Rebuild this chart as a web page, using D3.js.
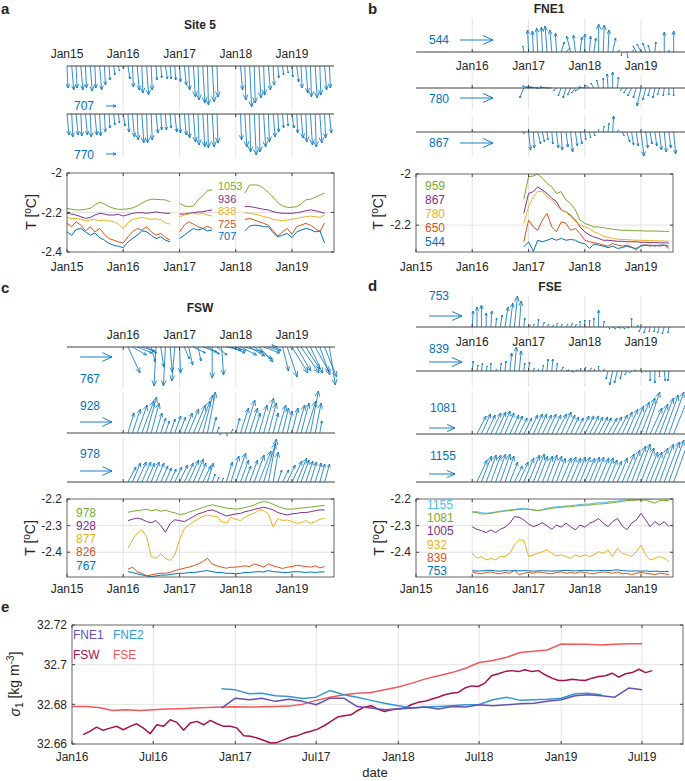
<!DOCTYPE html>
<html><head><meta charset="utf-8">
<script src="https://cdn.jsdelivr.net/npm/d3@7"></script>
<style>
body{margin:0;background:#fff;}
svg{display:block;font-family:"Liberation Sans",Arial,Helvetica,sans-serif;}
</style></head><body>
<svg id="chart" width="685" height="781"></svg>
<script>
// ======================= DATA =======================
// tick labels
const yearTicks = ["2015-01-01","2016-01-01","2017-01-01","2018-01-01","2019-01-01"];
const quiverTicks = ["2016-01-01","2017-01-01","2018-01-01","2019-01-01"];
const eTicks = ["2016-01-01","2016-07-01","2017-01-01","2017-07-01","2018-01-01","2018-07-01","2019-01-01","2019-07-01"];
const yTicksA = [-2,-2.2,-2.4], yTickLabA = ["-2","-2.2","-2.4"];
const yTicksB = [-2,-2.2], yTickLabB = ["-2","-2.2"];
const yTicksCD = [-2.2,-2.3,-2.4], yTickLabCD = ["-2.2","-2.3","-2.4"];
const yTicksE = [32.66,32.68,32.7,32.72], yTickLabE = ["32.66","32.68","32.7","32.72"];

// ---- Panel a: Site 5 currents (monthly from 2015-01, cm/s) ----
const s5_707_u = [0.1,0.2,0.1,0.2,0.1,0.2,0.1,0.2,0.1,0.1,0.1,0.1, 0.1,0.2,0.1,0.2,0.1,0.2,0.1,0.1,0.1,0.2,0.1,0.1, 0.1,0.2,0.1,0.2,0.1,0.2,0.1,0.2,0.1,null,null,null, null,0.2,0.1,0.2,0.1,0.2,0.1,0.2,0.1,0.1,0.1,0.1, 0.1,0.2,0.1,0.2,0.1,0.2,0.1,0.2,0.1];
const s5_707_v = [-2.2,-2.4,-2.2,-2.4,-2.2,-2.5,-2.2,-2.4,-1.9,-1.4,-0.9,-0.5, -0.2,-1.3,-2.1,-2.4,-2.7,-2.9,-2.4,-1.4,-1.2,-1.3,-1.3,-1.4, -1.6,-1.9,-2.4,-3.1,-3.4,-3.7,-3.9,-3.6,-3.1,null,null,null, null,-2.4,-3.4,-4.1,-3.7,-3.2,-2.9,-2.4,-1.9,-1.2,-0.9,-0.7, -1.1,-1.6,-2.2,-2.7,-3.1,-3.2,-2.9,-2.4,-2.2];
const s5_770_u = [0.2,0.1,0.2,0.1,0.2,0.1,0.2,0.1,0.1,0.1,0.1,0.1, 0.2,0.1,0.2,0.1,0.2,0.1,0.1,0.2,0.1,0.1,0.1,0.2, 0.1,0.2,0.1,0.2,0.1,0.2,0.1,0.2,0.1,null,null,null, null,0.1,0.2,0.1,0.2,0.1,0.2,0.1,0.2,0.1,0.1,0.1, 0.2,0.1,0.2,0.1,0.2,0.1,0.2,0.1,0.2];
const s5_770_v = [-2.1,-2.3,-2.1,-2.2,-2.1,-2.3,-2.1,-2.2,-1.8,-1.4,-1.1,-0.9, -1.2,-1.8,-2.3,-2.6,-2.9,-2.9,-2.6,-1.9,-1.6,-1.6,-1.4,-1.8, -1.9,-2.1,-2.4,-2.8,-3.1,-3.3,-3.4,-3.3,-2.9,null,null,null, null,-2.6,-3.3,-3.8,-4.1,-3.8,-3.3,-2.8,-2.3,-1.8,-1.4,-1.2, -1.4,-1.9,-2.4,-2.8,-3.1,-3.3,-2.9,-2.4,-1.9];
// ---- Panel a: Site 5 temperature (monthly from 2015-01, degC) ----
const s5_T1053 = [-2.179,-2.184,-2.187,-2.187,-2.184,-2.179,-2.162,-2.148,-2.157,-2.170,-2.179,-2.184, -2.184,-2.181,-2.177,-2.167,-2.153,-2.140,-2.133,-2.133,-2.135,-2.136,-2.146,null, -2.153,-2.167,-2.170,-2.167,-2.136,-2.116,-2.089,-2.085,null,null,null,null, null,null,-2.102,-2.061,-2.060,-2.063,-2.077,-2.099,-2.123,-2.150,-2.167,-2.174, -2.174,-2.170,-2.157,-2.136,-2.133,-2.123,-2.112,-2.102];
const s5_T936 = [-2.204,-2.208,-2.213,-2.221,-2.230,-2.225,-2.213,-2.204,-2.208,-2.213,-2.213,-2.209, -2.218,-2.211,-2.204,-2.201,-2.201,-2.204,-2.201,-2.197,-2.201,-2.204,-2.204,null, -2.208,-2.208,-2.204,-2.201,-2.197,-2.196,-2.191,-2.187,null,null,null,null, null,null,-2.170,-2.170,-2.174,-2.179,-2.184,-2.187,-2.196,-2.201,-2.204,-2.204, -2.204,-2.201,-2.197,-2.191,-2.187,-2.191,-2.197,-2.204];
const s5_T838 = [-2.225,-2.232,-2.230,-2.235,-2.242,-2.238,-2.235,-2.242,-2.238,-2.242,-2.247,-2.259, -2.281,-2.252,-2.235,-2.230,-2.225,-2.230,-2.235,-2.232,-2.238,-2.252,-2.259,null, -2.221,-2.213,-2.208,-2.204,-2.208,-2.204,-2.213,-2.218,null,null,null,null, null,null,-2.201,-2.204,-2.208,-2.213,-2.221,-2.225,-2.235,-2.238,-2.242,-2.238, -2.235,-2.230,-2.225,-2.221,-2.218,-2.221,-2.225,-2.213];
const s5_T725 = [-2.255,-2.272,-2.247,-2.264,-2.293,-2.272,-2.298,-2.281,-2.310,-2.332,-2.340,-2.349, -2.355,-2.323,-2.298,-2.281,-2.289,-2.272,-2.298,-2.315,-2.306,-2.327,-2.340,null, -2.298,-2.264,-2.247,-2.259,-2.272,-2.281,-2.270,-2.281,null,null,null,null, null,null,-2.235,-2.230,-2.238,-2.247,-2.255,-2.264,-2.293,-2.320,-2.298,-2.281, -2.310,-2.272,-2.264,-2.255,-2.264,-2.281,-2.298,-2.252];
const s5_T707 = [-2.298,-2.315,-2.286,-2.281,-2.298,-2.315,-2.303,-2.327,-2.340,-2.357,-2.366,-2.371, -2.378,-2.349,-2.332,-2.315,-2.293,-2.298,-2.315,-2.332,-2.323,-2.340,-2.349,null, -2.332,-2.315,-2.298,-2.281,-2.289,-2.281,-2.293,-2.289,null,null,null,null, null,null,-2.293,-2.269,-2.264,-2.266,-2.272,-2.272,-2.303,-2.323,-2.315,-2.306, -2.327,-2.298,-2.289,-2.281,-2.286,-2.298,-2.293,-2.354];

// ---- Panel b: FNE1 currents (monthly from 2016-12) ----
const fne1_544_u = [-0.1,-0.1,-0.1,-0.1,-0.1,-0.2,-0.2,-0.1,0.3,0.4,-0.4,-0.2,0.2,0.0,0.1,0.2,0.0,0.1,0.1,0.3,0.2,-0.1,0.1,0.2,-0.3,-0.4,-0.3,-0.2,0.1,0.0,0.0,0.0,0.0];
const fne1_544_v = [0.6,2.2,2.1,2.4,2.5,2.6,2.2,1.9,1.0,0.4,1.6,1.7,1.5,1.8,1.6,1.4,2.8,2.7,2.2,1.4,0.2,-0.4,-0.6,0.2,0.6,0.8,0.9,0.7,1.0,0.1,2.0,0.2,2.1];
const fne1_780_u = [-0.4,-0.6,-0.7,-0.8,-0.6,-0.7,-0.5,-0.3,-0.3,-0.3,-0.3,-0.4,-0.5,-0.6,-0.5,-0.3,-0.2,0.0,-0.1,0.0,0.1,-0.2,-0.3,-0.4,-0.3,-0.4,-0.3,-0.2,-0.2,-0.2,-0.1,0.0,0.0];
const fne1_780_v = [-1.0,0.2,0.1,0.1,0.0,0.1,0.0,-0.3,-0.8,-1.0,-0.7,-0.5,-0.3,0.1,0.3,0.5,0.8,1.0,1.4,1.6,1.1,-0.3,-0.5,-0.8,-1.0,-1.8,-1.2,-0.8,-1.0,-0.7,-0.8,-0.7,-0.8];
const fne1_867_u = [0.0,0.2,0.1,0.3,0.2,0.1,0.1,0.2,0.1,0.2,0.2,0.2,0.2,0.1,0.1,0.1,0.0,0.1,0.1,0.1,0.1,0.2,0.3,0.2,0.2,0.3,0.2,0.2,0.2,0.2,0.2,0.2,0.2];
const fne1_867_v = [-0.2,-1.8,-1.6,-1.2,-1.0,-0.8,-1.2,-1.6,-1.8,-1.5,-2.0,-1.4,-1.2,-0.8,-0.6,-0.4,0.3,0.6,0.9,1.6,0.2,-0.4,-1.0,-1.3,-1.4,-2.4,-1.6,-1.2,-1.4,-1.8,-2.0,-1.6,-2.2];
// ---- Panel b: FNE1 temperature (monthly from 2016-12) ----
const fne1_T959 = [-2.099,-2.010,-2.008,-2.000,-2.017,-2.037,-2.050,-2.076,-2.069,-2.102,-2.115,-2.141,-2.180,-2.193,-2.200,-2.207,-2.207,-2.210,-2.213,-2.216,-2.218,-2.220,-2.220,-2.221,-2.222,-2.222,-2.223,-2.223,-2.223,-2.224,-2.224,-2.225];
const fne1_T867 = [-2.154,-2.076,-2.069,-2.050,-2.063,-2.076,-2.095,-2.108,-2.141,-2.148,-2.161,-2.180,-2.207,-2.226,-2.239,-2.246,-2.252,-2.259,-2.259,-2.261,-2.263,-2.263,-2.265,-2.265,-2.265,-2.267,-2.267,-2.268,-2.268,-2.269,-2.269,-2.270];
const fne1_T780 = [-2.193,-2.128,-2.089,-2.069,-2.069,-2.089,-2.102,-2.122,-2.141,-2.148,-2.167,-2.187,-2.200,-2.207,-2.213,-2.226,-2.233,-2.243,-2.248,-2.252,-2.255,-2.256,-2.257,-2.258,-2.259,-2.259,-2.260,-2.260,-2.261,-2.261,-2.262,-2.263];
const fne1_T650 = [-2.265,-2.180,-2.207,-2.220,-2.180,-2.154,-2.207,-2.226,-2.187,-2.193,-2.220,-2.213,-2.233,-2.259,-2.265,-2.269,-2.272,-2.278,-2.282,-2.272,-2.278,-2.282,-2.278,-2.285,-2.298,-2.278,-2.278,-2.282,-2.278,-2.282,-2.278,-2.291];
const fne1_T544 = [-2.285,-2.265,-2.303,-2.259,-2.265,-2.259,-2.252,-2.259,-2.252,-2.259,-2.256,-2.259,-2.269,-2.272,-2.291,-2.274,-2.278,-2.282,-2.288,-2.282,-2.291,-2.288,-2.282,-2.288,-2.291,-2.282,-2.278,-2.278,-2.282,-2.278,-2.278,-2.282];

// ---- Panel c: FSW currents (monthly from 2016-02) ----
const fsw_767_u = [1.2,1.4,1.5,1.3,1.0,0.4,-0.2,0.3,-0.2,0.2,-0.3, 0.1,0.5,0.4,1.2,0.3,1.4,1.2,0.0,1.0,0.2,1.5,1.4, 1.0,1.6,1.8,1.5,1.8,1.4,1.6,1.2,0.8,-0.6,0.6,1.0, 1.6,1.4,1.8,1.4,1.2,1.4,1.0,1.2,0.6];
const fsw_767_v = [-2.6,-0.8,-0.6,-0.4,-0.6,-1.5,-3.9,-2.0,-3.9,-2.5,-3.4, -2.6,-1.2,-1.8,-0.6,-1.4,-0.5,-0.7,-3.1,-0.8,-2.8,-0.3,-0.6, -0.4,-0.8,-0.5,-0.9,-1.2,-1.5,-0.6,-0.4,-0.3,0.2,-2.4,-3.0, -2.6,-2.4,-2.6,-2.2,-2.6,-2.5,-2.8,-3.0,-3.8];
const fsw_928_u = [0.6,0.8,1.0,1.2,1.0,0.8,0.6,0.5,0.4,0.5,0.6, 0.6,0.8,1.0,1.2,1.2,1.0,0.8,0.4,0.2,-0.2,0.1,0.2, 0.4,0.8,1.0,0.8,0.6,0.8,1.0,0.8,0.5,0.8,0.6,0.5, 0.6,0.8,0.8,1.0,0.8,0.6,0.2];
const fsw_928_v = [2.0,2.4,2.8,3.2,3.6,3.0,2.0,1.5,1.2,1.4,1.7, 1.6,2.0,2.4,2.8,3.2,3.8,4.1,1.6,0.6,-0.2,-0.3,0.4, 1.5,2.5,3.3,2.5,2.0,2.8,3.5,3.0,2.0,2.8,2.5,2.2, 2.5,2.8,3.0,3.2,4.2,3.0,1.2];
const fsw_978_u = [0.8,0.8,0.9,0.9,0.8,0.8,0.8,0.7,0.6,0.6,0.7, 0.8,0.9,1.0,1.0,0.8,0.8,0.6,0.3,0.2,0.2,0.6,0.8, 1.0,0.8,0.6,0.8,1.0,1.2,1.2,0.8,0.5,0.4,0.6,0.8, 1.0,1.0,0.8,0.7,0.6,0.6,0.5,0.5];
const fsw_978_v = [1.5,1.9,2.0,2.0,1.9,2.0,1.9,1.6,1.4,1.3,1.5, 1.7,1.9,2.2,2.3,1.9,1.6,1.9,0.8,0.5,0.4,2.0,2.6, 2.9,2.2,1.6,2.2,2.7,3.1,3.9,4.3,3.0,1.2,1.2,1.7, 2.1,2.4,2.2,2.1,2.0,1.9,1.8,1.8];
// ---- Panel c: FSW temperature (monthly from 2016-02) ----
const fsw_T978 = [-2.250,-2.246,-2.244,-2.241,-2.238,-2.244,-2.240,-2.246,-2.242,-2.248,-2.252, -2.258,-2.256,-2.250,-2.244,-2.238,-2.232,-2.226,-2.222,-2.226,-2.230,-2.234,-2.236, -2.238,-2.236,-2.232,-2.228,-2.222,-2.214,-2.210,-2.212,-2.220,-2.228,-2.234,-2.238, -2.238,-2.236,-2.234,-2.232,-2.230,-2.228,-2.226,-2.224];
const fsw_T928 = [-2.281,-2.276,-2.272,-2.276,-2.285,-2.289,-2.281,-2.300,-2.325,-2.292,-2.278, -2.281,-2.285,-2.276,-2.266,-2.256,-2.251,-2.244,-2.241,-2.248,-2.256,-2.264,-2.260, -2.256,-2.254,-2.248,-2.244,-2.239,-2.235,-2.231,-2.235,-2.241,-2.251,-2.256,-2.260, -2.256,-2.254,-2.251,-2.251,-2.248,-2.244,-2.241,-2.241];
const fsw_T877 = [-2.385,-2.354,-2.329,-2.316,-2.341,-2.416,-2.423,-2.406,-2.423,-2.431,-2.410, -2.354,-2.310,-2.298,-2.285,-2.276,-2.266,-2.260,-2.264,-2.266,-2.285,-2.291,-2.269, -2.276,-2.281,-2.269,-2.260,-2.254,-2.241,-2.244,-2.256,-2.306,-2.273,-2.281,-2.279, -2.285,-2.291,-2.289,-2.281,-2.291,-2.285,-2.276,-2.273];
const fsw_T826 = [-2.464,-2.456,-2.473,-2.479,-2.489,-2.485,-2.481,-2.479,-2.479,-2.476,-2.469, -2.464,-2.460,-2.456,-2.451,-2.444,-2.435,-2.423,-2.444,-2.451,-2.456,-2.460,-2.456, -2.456,-2.454,-2.451,-2.454,-2.444,-2.449,-2.456,-2.444,-2.451,-2.456,-2.461,-2.456, -2.454,-2.449,-2.451,-2.454,-2.456,-2.451,-2.459,-2.454];
const fsw_T767 = [-2.473,-2.476,-2.481,-2.485,-2.489,-2.491,-2.489,-2.486,-2.486,-2.484,-2.481, -2.479,-2.479,-2.476,-2.476,-2.474,-2.471,-2.469,-2.473,-2.476,-2.476,-2.479,-2.479, -2.481,-2.479,-2.476,-2.476,-2.474,-2.473,-2.474,-2.469,-2.473,-2.474,-2.476,-2.476, -2.474,-2.473,-2.474,-2.476,-2.474,-2.476,-2.474,-2.474];

// ---- Panel d: FSE currents ----
const fse_753_u = [0.1,0.0,0.0,0.0,0.1,0.1,0.2,0.3,0.3,0.3,0.2,0.1, 0.2,0.1,0.1,0.2,0.2,0.2,0.1,0.1,0.2,0.2,0.1,0.0, 0.0,0.0,0.0,0.0,0.1,0.2,0.3,0.3,0.3,0.2,0.0,0.2, -0.2,-0.2,-0.1,-0.1,-0.2,-0.2,-0.1];
const fse_753_v = [1.6,2.0,2.2,1.4,1.6,0.9,1.2,2.0,2.4,3.1,2.6,0.9, 0.2,0.3,0.8,0.5,0.3,0.2,0.4,0.3,0.3,0.4,0.3,0.6, 0.7,0.7,0.9,1.7,0.6,-0.2,-0.2,-0.1,-0.2,-0.1,0.9,0.2, -0.5,-0.6,-0.5,-0.5,-0.6,-0.7,-0.6];
const fse_839_u = [0.1,0.1,0.1,0.1,0.0,0.1,0.1,0.1,0.2,0.2,0.2,0.1, 0.1,0.1,0.1,0.1,0.1,0.1,0.1,0.2,0.3,0.3,0.2,0.1, 0.1,0.2,0.1,0.0,0.1,-0.2,-0.3,-0.3,-0.2,-0.2,-0.2,-0.2, 0.1,0.0,0.0,0.0,0.0,0.1,-0.1];
const fse_839_v = [1.0,0.6,0.8,0.5,0.8,0.2,0.8,1.0,1.8,2.4,2.0,0.8, 0.9,0.3,0.2,0.6,1.2,1.2,0.8,0.4,0.1,-0.1,0.1,0.3, 0.4,0.3,0.2,0.5,0.2,-0.8,-1.4,-1.2,-0.8,-0.4,-0.2,0.1, -0.2,-0.1,-1.0,-1.2,-0.6,-1.0,-1.0];
const fse_1081_u = [0.9,0.9,0.9,1.0,1.0,1.0,0.9,0.9,0.8,0.8,0.8, 0.9,0.9,0.9,0.9,0.9,0.9,1.0,1.0,0.9,0.8,0.8,0.9, 0.9,0.9,0.9,0.9,0.8,0.9,0.9,1.0,1.0,1.1,1.2,1.3, 1.4,1.4,1.2,1.3,1.4,1.4,1.5,1.6];
const fse_1081_v = [1.8,2.0,1.9,2.1,2.2,2.3,2.1,1.9,1.8,1.6,1.6, 1.9,2.0,2.0,1.9,2.0,1.9,2.0,2.2,1.9,1.7,1.6,1.8, 1.8,1.8,1.7,1.7,1.6,1.6,1.7,1.9,2.2,2.5,2.8,3.2, 3.6,4.2,2.6,3.0,3.6,3.9,4.2,4.0];
const fse_1155_u = [1.0,1.0,1.0,1.0,1.0,1.0,0.9,0.8,0.8,0.9,1.0, 1.1,1.1,1.0,1.0,1.0,1.0,0.9,1.0,1.0,1.0,1.0,1.0, 1.0,1.0,1.0,1.0,1.0,0.9,0.9,1.0,1.2,1.3,1.4,1.4, 1.3,1.2,1.2,1.3,1.4,1.5,1.5,1.6];
const fse_1155_v = [2.2,2.6,2.7,2.7,2.8,2.8,2.6,2.0,1.6,2.0,2.4, 2.7,2.8,2.6,2.6,2.7,2.6,2.4,2.4,2.5,2.4,2.5,2.5, 2.4,2.5,2.5,2.4,2.4,2.2,2.1,2.4,2.8,3.2,3.6,3.8, 3.4,3.0,3.0,3.4,3.8,4.0,4.2,4.4];
// ---- Panel d: FSE temperature (monthly from 2016-01) ----
const fse_T1155 = [-2.248,-2.248,-2.251,-2.254,-2.251,-2.249,-2.246,-2.244,-2.241,-2.239,-2.236,-2.235, -2.238,-2.241,-2.244,-2.239,-2.235,-2.231,-2.229,-2.229,-2.226,-2.226,-2.223,-2.221, -2.219,-2.219,-2.216,-2.214,-2.214,-2.211,-2.209,-2.208,-2.204,-2.204,-2.201,-2.201, -2.200,-2.200,-2.200,-2.199,-2.199,-2.199,-2.200];
const fse_T1081 = [-2.249,-2.251,-2.256,-2.256,-2.254,-2.250,-2.248,-2.245,-2.244,-2.241,-2.239,-2.238, -2.239,-2.241,-2.244,-2.241,-2.238,-2.235,-2.233,-2.231,-2.229,-2.229,-2.226,-2.225, -2.223,-2.223,-2.220,-2.219,-2.218,-2.216,-2.214,-2.211,-2.210,-2.206,-2.206,-2.204, -2.204,-2.204,-2.210,-2.216,-2.206,-2.206,-2.205];
const fse_T1005 = [-2.304,-2.314,-2.319,-2.326,-2.316,-2.326,-2.314,-2.306,-2.291,-2.266,-2.269,-2.279, -2.294,-2.304,-2.298,-2.289,-2.301,-2.314,-2.298,-2.306,-2.291,-2.304,-2.316,-2.298, -2.306,-2.291,-2.285,-2.273,-2.291,-2.304,-2.285,-2.273,-2.301,-2.316,-2.291,-2.279, -2.254,-2.279,-2.304,-2.285,-2.298,-2.285,-2.304];
const fse_T932 = [-2.404,-2.423,-2.416,-2.429,-2.423,-2.429,-2.416,-2.416,-2.404,-2.373,-2.354,-2.355, -2.416,-2.410,-2.404,-2.398,-2.391,-2.404,-2.414,-2.410,-2.416,-2.423,-2.410,-2.416, -2.410,-2.416,-2.410,-2.398,-2.404,-2.391,-2.416,-2.385,-2.404,-2.410,-2.416,-2.398, -2.373,-2.410,-2.429,-2.423,-2.416,-2.423,-2.435];
const fse_T839 = [-2.474,-2.479,-2.481,-2.476,-2.474,-2.479,-2.481,-2.476,-2.479,-2.468,-2.484,-2.479, -2.476,-2.479,-2.474,-2.476,-2.479,-2.481,-2.476,-2.474,-2.479,-2.476,-2.479,-2.474, -2.476,-2.479,-2.481,-2.476,-2.474,-2.476,-2.479,-2.474,-2.481,-2.479,-2.484,-2.479, -2.476,-2.479,-2.481,-2.484,-2.479,-2.481,-2.484];
const fse_T753 = [-2.469,-2.471,-2.470,-2.469,-2.468,-2.470,-2.471,-2.469,-2.470,-2.469,-2.470,-2.469, -2.470,-2.471,-2.470,-2.469,-2.470,-2.471,-2.470,-2.469,-2.468,-2.469,-2.470,-2.469, -2.468,-2.469,-2.470,-2.469,-2.468,-2.469,-2.468,-2.466,-2.469,-2.470,-2.471,-2.470, -2.471,-2.470,-2.472,-2.471,-2.472,-2.473,-2.472];

// ---- Panel e: sigma_1 (kg m-3) ----
const sigFNE1 = [32.6781,32.6831,32.6823,32.6831,32.6815,32.6826,32.6815,32.6798,32.6831,32.6831,32.6789,32.6781,32.6773,32.6776,32.6781,32.6786,32.6776,32.6789,32.6786,32.6798,32.6793,32.6798,32.6803,32.6806,32.6815,32.6823,32.6843,32.6848,32.6843,32.6836,32.6882,32.6873]; // monthly from 2016-12
const sigFNE2 = [32.6878,32.6873,32.6853,32.6856,32.6843,32.6840,32.6830,32.6836,32.6870,32.6848,32.6836,32.6820,32.6806,32.6793,32.6781,32.6786,32.6789,32.6793,32.6798,32.6799,32.6823,32.6836,32.6820,32.6823,32.6826,32.6831,32.6853,32.6856,32.6848]; // monthly from 2016-12
const sigFSE = [32.6789,32.6789,32.6784,32.6769,32.6773,32.6769,32.6773,32.6776,32.6778,32.6781,32.6784,32.6786,32.6788,32.6786,32.6788,32.6789,32.6791,32.6801,32.6820,32.6836,32.6848,32.6856,32.6860,32.6873,32.6887,32.6907,32.6927,32.6944,32.6960,32.6982,32.7011,32.7021,32.7037,32.7061,32.7068,32.7074,32.7104,32.7103,32.7103,32.7099,32.7103,32.7106,32.7106]; // monthly from 2016-01
const sigFSW = [32.6647,32.6664,32.6685,32.6669,32.6680,32.6689,32.6672,32.6689,32.6702,32.6680,32.6652,32.6697,32.6689,32.6722,32.6709,32.6669,32.6706,32.6714,32.6697,32.6719,32.6702,32.6689,32.6689,32.6680,32.6642,32.6639,32.6630,32.6618,32.6605,32.6608,32.6622,32.6635,32.6642,32.6655,32.6664,32.6675,32.6692,32.6714,32.6736, 32.6742,32.6747,32.6769,32.6786,32.6793,32.6776,32.6764,32.6773,32.6776,32.6781,32.6798,32.6810,32.6815,32.6826,32.6836,32.6848,32.6856,32.6860,32.6882,32.6893,32.6890,32.6907,32.6944,32.6954,32.6965,32.6970,32.6965,32.6974,32.6965,32.6970,32.6949,32.6932,32.6920,32.6920,32.6927,32.6923,32.6920,32.6932,32.6940,32.6944,32.6957,32.6937,32.6954,32.6960,32.6977,32.6960,32.6970]; // every 15 days from 2016-01-26

// ======================= DRAWING =======================
const svg = d3.select("#chart");
const C = {blue:"#0072BD", orange:"#D95319", yellow:"#EDB120", purple:"#7E2F8E", green:"#77AC30", cyan:"#4DBEEE"};
const EC = {fne1:"#6650B4", fne2:"#3399D6", fsw:"#A5124C", fse:"#F2575C"};
const D = s => new Date(s.length === 7 ? s + "-01T00:00:00Z" : s + "T00:00:00Z");
const months = (start, n) => d3.range(n).map(i => d3.utcMonth.offset(D(start), i));
const fmtMon = d3.utcFormat("%b%y");
const AX = "#404040", TXT = "#262626", GRID = "#e3e3e3";
const K = 10; // px per cm/s

const xLeft = d3.scaleUtc().domain([D("2015-01-01"), D("2019-10-01")]).range([67, 334]);
const xRight = d3.scaleUtc().domain([D("2015-01-01"), D("2019-01-01")]).range([416, 641]);
const xE = d3.scaleUtc().domain([D("2016-01-01"), D("2019-07-01")]).range([72, 642]);

let clipId = 0;
function text(x, y, s, opt = {}) {
  return svg.append("text").attr("x", x).attr("y", y).attr("dy", "0.35em")
    .attr("font-size", opt.size || 12).attr("fill", opt.color || TXT)
    .attr("font-weight", opt.bold ? "bold" : null)
    .attr("text-anchor", opt.anchor || "start").text(s);
}
function arrow(g, x0, y0, x1, y1, frac, maxH, ang) {
  const dx = x1 - x0, dy = y1 - y0, L = Math.hypot(dx, dy);
  if (L < 0.3) return;
  const h = Math.min(L * frac, maxH), a = Math.atan2(dy, dx);
  const p = d3.path();
  p.moveTo(x0, y0); p.lineTo(x1, y1);
  p.moveTo(x1 - h * Math.cos(a - ang), y1 - h * Math.sin(a - ang));
  p.lineTo(x1, y1);
  p.lineTo(x1 - h * Math.cos(a + ang), y1 - h * Math.sin(a + ang));
  g.append("path").attr("d", p.toString());
}
function quiverAxis(cfg) {
  const {xs, x0, x1, base, gTop, gBot, start, U, V} = cfg;
  const g = svg.append("g");
  quiverTicks.forEach(t => {
    g.append("line").attr("x1", xs(D(t))).attr("x2", xs(D(t))).attr("y1", gTop).attr("y2", gBot)
      .attr("stroke", GRID).attr("stroke-width", 1);
  });
  const ag = g.append("g").attr("stroke", C.blue).attr("stroke-width", 0.8).attr("fill", "none");
  months(start, V.length).forEach((d, i) => {
    if (V[i] == null) return;
    const tx = xs(d);
    arrow(ag, tx, base, tx + U[i] * K, base - V[i] * K, 0.2, 6, 0.4);
  });
  g.append("line").attr("x1", x0).attr("x2", x1).attr("y1", base).attr("y2", base)
    .attr("stroke", AX).attr("stroke-width", 1);
  quiverTicks.forEach(t => {
    const dir = base === gTop ? 1 : -1;
    g.append("line").attr("x1", xs(D(t))).attr("x2", xs(D(t))).attr("y1", base).attr("y2", base + dir * 3)
      .attr("stroke", AX).attr("stroke-width", 1);
  });
  // label & reference arrow
  text(cfg.labX, cfg.labY, cfg.label, {color: C.blue});
  const rg = svg.append("g").attr("stroke", C.blue).attr("stroke-width", 0.9).attr("fill", "none");
  arrow(rg, cfg.refX, cfg.refY, cfg.refX + cfg.refSpeed * K, cfg.refY, 0.33, 11, 0.42);
}
function tempAxis(cfg) {
  const {xs, left, right, top, bottom, yDom, yT, yL, xT, xLabY, series, labels} = cfg;
  const y = d3.scaleLinear().domain(yDom).range([bottom, top]);
  const g = svg.append("g");
  const id = "clip" + (clipId++);
  svg.append("clipPath").attr("id", id).append("rect")
    .attr("x", left).attr("y", top).attr("width", right - left).attr("height", bottom - top);
  // grid
  xT.forEach(t => { const xx = xs(D(t)); if (xx > left + 0.5 && xx < right - 0.5)
    g.append("line").attr("x1", xx).attr("x2", xx).attr("y1", top).attr("y2", bottom).attr("stroke", GRID); });
  yT.forEach(v => { const yy = y(v); if (yy > top + 0.5 && yy < bottom - 0.5)
    g.append("line").attr("x1", left).attr("x2", right).attr("y1", yy).attr("y2", yy).attr("stroke", GRID); });
  // lines
  const lg = g.append("g").attr("clip-path", `url(#${id})`);
  series.forEach(s => {
    const dates = s.dates || months(s.start, s.values.length);
    const line = d3.line().defined(v => v != null).x((v, i) => xs(dates[i])).y(v => y(v));
    lg.append("path").attr("d", line(s.values)).attr("fill", "none").attr("stroke", s.color)
      .attr("stroke-width", s.width || 1).attr("stroke-linejoin", "round");
  });
  // box & ticks
  g.append("rect").attr("x", left).attr("y", top).attr("width", right - left).attr("height", bottom - top)
    .attr("fill", "none").attr("stroke", AX).attr("stroke-width", 0.8);
  xT.forEach(t => { const xx = xs(D(t));
    if (xx >= left - 0.5 && xx <= right + 0.5) {
      g.append("line").attr("x1", xx).attr("x2", xx).attr("y1", bottom).attr("y2", bottom - 3).attr("stroke", AX);
      g.append("line").attr("x1", xx).attr("x2", xx).attr("y1", top).attr("y2", top + 3).attr("stroke", AX);
    }
    text(xx, xLabY, cfg.xFmt(D(t)), {anchor: "middle"});
  });
  yT.forEach((v, i) => { const yy = y(v);
    g.append("line").attr("x1", left).attr("x2", left + 3).attr("y1", yy).attr("y2", yy).attr("stroke", AX);
    g.append("line").attr("x1", right).attr("x2", right - 3).attr("y1", yy).attr("y2", yy).attr("stroke", AX);
    text(left - 5, yy, yL[i], {anchor: "end"});
  });
  (labels || []).forEach(l => text(l.x, l.y, l.t, {color: l.c, size: cfg.labSize || 12}));
}
function tLabel(x, y) {
  const t = svg.append("text").attr("transform", `translate(${x},${y}) rotate(-90)`)
    .attr("text-anchor", "middle").attr("dy", "0.35em").attr("font-size", 14).attr("fill", TXT);
  t.append("tspan").text("T [");
  t.append("tspan").attr("font-size", 10).attr("dy", "-0.45em").text("o");
  t.append("tspan").attr("dy", "0.3em").text("C]");
}

// ---------- panel letters & titles ----------
text(1, 9, "a", {size: 15, bold: true});
text(368, 9, "b", {size: 15, bold: true});
text(1, 288, "c", {size: 15, bold: true});
text(368, 286, "d", {size: 15, bold: true});
text(1, 607, "e", {size: 15, bold: true});
text(200, 25, "Site 5", {bold: true, anchor: "middle"});
text(549, 9, "FNE1", {bold: true, anchor: "middle"});
text(200, 308, "FSW", {bold: true, anchor: "middle"});
text(550, 287, "FSE", {bold: true, anchor: "middle"});

// ---------- panel a ----------
yearTicks.forEach(t => text(xLeft(D(t)), 54, fmtMon(D(t)), {anchor: "middle"}));
quiverAxis({xs: xLeft, x0: 67, x1: 334, base: 66, gTop: 66, gBot: 110, start: "2015-01", U: s5_707_u, V: s5_707_v,
  label: "707", labX: 74, labY: 106, refX: 106, refY: 106, refSpeed: 1.0});
quiverAxis({xs: xLeft, x0: 67, x1: 334, base: 114, gTop: 114, gBot: 157, start: "2015-01", U: s5_770_u, V: s5_770_v,
  label: "770", labX: 74, labY: 155, refX: 106, refY: 154, refSpeed: 1.0});
tempAxis({xs: xLeft, left: 67, right: 334, top: 173, bottom: 252, yDom: [-2.4, -2], yT: yTicksA, yL: yTickLabA,
  xT: yearTicks, xLabY: 267, xFmt: fmtMon, labSize: 11,
  series: [
    {start: "2015-01", values: s5_T1053, color: C.green},
    {start: "2015-01", values: s5_T936, color: C.purple},
    {start: "2015-01", values: s5_T838, color: C.yellow},
    {start: "2015-01", values: s5_T725, color: C.orange},
    {start: "2015-01", values: s5_T707, color: C.blue}],
  labels: [{t: "1053", c: C.green, x: 218, y: 186.5}, {t: "936", c: C.purple, x: 218, y: 199},
    {t: "838", c: C.yellow, x: 218, y: 211.5}, {t: "725", c: C.orange, x: 218, y: 224}, {t: "707", c: C.blue, x: 218, y: 236.5}]});
tLabel(31, 212);

// ---------- panel b ----------
quiverTicks.forEach(t => text(xRight(D(t)), 66, fmtMon(D(t)), {anchor: "middle"}));
quiverAxis({xs: xRight, x0: 416, x1: 685, base: 52, gTop: 18, gBot: 52, start: "2016-12", U: fne1_544_u, V: fne1_544_v,
  label: "544", labX: 429, labY: 40, refX: 460, refY: 40, refSpeed: 3.3});
quiverAxis({xs: xRight, x0: 416, x1: 685, base: 88, gTop: 74, gBot: 110, start: "2016-12", U: fne1_780_u, V: fne1_780_v,
  label: "780", labX: 429, labY: 99, refX: 460, refY: 98, refSpeed: 3.3});
quiverAxis({xs: xRight, x0: 416, x1: 685, base: 132, gTop: 115, gBot: 157, start: "2016-12", U: fne1_867_u, V: fne1_867_v,
  label: "867", labX: 429, labY: 143, refX: 460, refY: 143, refSpeed: 3.3});
tempAxis({xs: xRight, left: 416, right: 673, top: 174, bottom: 252, yDom: [-2.305, -2], yT: yTicksB, yL: yTickLabB,
  xT: yearTicks, xLabY: 267, xFmt: fmtMon,
  series: [
    {start: "2016-12", values: fne1_T959, color: C.green},
    {start: "2016-12", values: fne1_T867, color: C.purple},
    {start: "2016-12", values: fne1_T780, color: C.yellow},
    {start: "2016-12", values: fne1_T650, color: C.orange},
    {start: "2016-12", values: fne1_T544, color: C.blue}],
  labels: [{t: "959", c: C.green, x: 425, y: 186}, {t: "867", c: C.purple, x: 425, y: 200},
    {t: "780", c: C.yellow, x: 425, y: 214}, {t: "650", c: C.orange, x: 425, y: 228}, {t: "544", c: C.blue, x: 425, y: 242}]});
tLabel(378, 212);

// ---------- panel c ----------
quiverTicks.forEach(t => text(xLeft(D(t)), 335, fmtMon(D(t)), {anchor: "middle"}));
quiverAxis({xs: xLeft, x0: 67, x1: 335, base: 347, gTop: 347, gBot: 388, start: "2016-02", U: fsw_767_u, V: fsw_767_v,
  label: "767", labX: 80, labY: 379, refX: 80, refY: 357, refSpeed: 3.2});
quiverAxis({xs: xLeft, x0: 67, x1: 335, base: 433, gTop: 392, gBot: 433, start: "2016-02", U: fsw_928_u, V: fsw_928_v,
  label: "928", labX: 80, labY: 406, refX: 80, refY: 422, refSpeed: 3.2});
quiverAxis({xs: xLeft, x0: 67, x1: 335, base: 482, gTop: 438, gBot: 482, start: "2016-02", U: fsw_978_u, V: fsw_978_v,
  label: "978", labX: 80, labY: 454, refX: 80, refY: 471, refSpeed: 3.2});
tempAxis({xs: xLeft, left: 67, right: 334, top: 499, bottom: 577, yDom: [-2.493, -2.2], yT: yTicksCD, yL: yTickLabCD,
  xT: yearTicks, xLabY: 589, xFmt: fmtMon,
  series: [
    {start: "2016-02", values: fsw_T978, color: C.green},
    {start: "2016-02", values: fsw_T928, color: C.purple},
    {start: "2016-02", values: fsw_T877, color: C.yellow},
    {start: "2016-02", values: fsw_T826, color: C.orange},
    {start: "2016-02", values: fsw_T767, color: C.blue}],
  labels: [{t: "978", c: C.green, x: 76, y: 513}, {t: "928", c: C.purple, x: 76, y: 526},
    {t: "877", c: C.yellow, x: 76, y: 539}, {t: "826", c: C.orange, x: 76, y: 552}, {t: "767", c: C.blue, x: 76, y: 566}]});
tLabel(30, 538);

// ---------- panel d ----------
quiverTicks.forEach(t => text(xRight(D(t)), 342, fmtMon(D(t)), {anchor: "middle"}));
quiverAxis({xs: xRight, x0: 416, x1: 685, base: 327, gTop: 296, gBot: 336, start: "2016-01", U: fse_753_u, V: fse_753_v,
  label: "753", labX: 429, labY: 296, refX: 429, refY: 316, refSpeed: 3.3});
quiverAxis({xs: xRight, x0: 416, x1: 685, base: 371, gTop: 352, gBot: 387, start: "2016-01", U: fse_839_u, V: fse_839_v,
  label: "839", labX: 429, labY: 349, refX: 429, refY: 362, refSpeed: 3.3});
quiverAxis({xs: xRight, x0: 416, x1: 685, base: 434, gTop: 391, gBot: 434, start: "2016-02", U: fse_1081_u, V: fse_1081_v,
  label: "1081", labX: 430, labY: 408, refX: 429, refY: 428, refSpeed: 2.6});
quiverAxis({xs: xRight, x0: 416, x1: 685, base: 482, gTop: 438, gBot: 482, start: "2016-02", U: fse_1155_u, V: fse_1155_v,
  label: "1155", labX: 430, labY: 456, refX: 429, refY: 474, refSpeed: 2.6});
tempAxis({xs: xRight, left: 416, right: 673, top: 499, bottom: 577, yDom: [-2.493, -2.2], yT: yTicksCD, yL: yTickLabCD,
  xT: yearTicks, xLabY: 589, xFmt: fmtMon,
  series: [
    {start: "2016-01", values: fse_T1155, color: C.cyan},
    {start: "2016-01", values: fse_T1081, color: C.green},
    {start: "2016-01", values: fse_T1005, color: C.purple},
    {start: "2016-01", values: fse_T932, color: C.yellow},
    {start: "2016-01", values: fse_T839, color: C.orange},
    {start: "2016-01", values: fse_T753, color: C.blue}],
  labels: [{t: "1155", c: C.cyan, x: 427, y: 505}, {t: "1081", c: C.green, x: 427, y: 518},
    {t: "1005", c: C.purple, x: 427, y: 531}, {t: "932", c: C.yellow, x: 427, y: 545},
    {t: "839", c: C.orange, x: 427, y: 558}, {t: "753", c: C.blue, x: 427, y: 571}]});
tLabel(379, 538);

// ---------- panel e ----------
const fswDates = sigFSW.map((v, i) => d3.utcDay.offset(D("2016-01-26"), 15 * i));
tempAxis({xs: xE, left: 72, right: 683, top: 625, bottom: 744, yDom: [32.66, 32.72], yT: yTicksE, yL: yTickLabE,
  xT: eTicks, xLabY: 757, xFmt: fmtMon,
  series: [
    {start: "2016-01", values: sigFSE, color: EC.fse, width: 1.5},
    {dates: fswDates, values: sigFSW, color: EC.fsw, width: 1.5},
    {start: "2016-12", values: sigFNE2, color: EC.fne2, width: 1.5},
    {start: "2016-12", values: sigFNE1, color: EC.fne1, width: 1.5}],
  labels: [{t: "FNE1", c: EC.fne1, x: 73, y: 635}, {t: "FNE2", c: EC.fne2, x: 113, y: 635},
    {t: "FSW", c: EC.fsw, x: 73, y: 655}, {t: "FSE", c: EC.fse, x: 113, y: 655}]});
text(375, 772, "date", {size: 13, anchor: "middle"});
{
  const t = svg.append("text").attr("transform", "translate(15,684) rotate(-90)")
    .attr("text-anchor", "middle").attr("dy", "0.35em").attr("font-size", 14).attr("fill", TXT);
  t.append("tspan").attr("font-style", "italic").text("σ");
  t.append("tspan").attr("font-size", 10).attr("dy", "0.35em").text("1");
  t.append("tspan").attr("dy", "-0.35em").text(" [kg m");
  t.append("tspan").attr("font-size", 10).attr("dy", "-0.45em").text("-3");
  t.append("tspan").attr("dy", "0.45em").text("]");
}
</script>
</body></html>
